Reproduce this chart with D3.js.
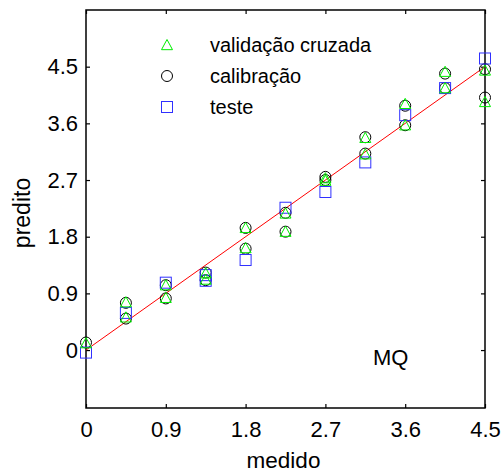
<!DOCTYPE html>
<html>
<head>
<meta charset="utf-8">
<script src="https://cdn.jsdelivr.net/npm/d3@7"></script>
<style>
  html, body { margin: 0; padding: 0; background: #fff; }
  svg { display: block; font-family: "Liberation Sans", Arial, sans-serif; }
</style>
</head>
<body>
<svg id="chart" width="501" height="473"></svg>
<script>
// Calibration points (medido, predito)
const calibX = [0, 0.45, 0.45, 0.9, 0.9, 1.35, 1.35, 1.8, 1.8, 2.25, 2.25, 2.7, 2.7, 3.15, 3.15, 3.6, 3.6, 4.05, 4.05, 4.5, 4.5];
const calibY = [0.12, 0.75, 0.50, 1.03, 0.82, 1.23, 1.11, 1.94, 1.61, 2.18, 1.88, 2.75, 2.70, 3.38, 3.12, 3.88, 3.57, 4.39, 4.16, 4.46, 4.01];
// Cross-validation points
const cvX = calibX;
const cvY = [0.11, 0.76, 0.52, 1.03, 0.83, 1.22, 1.12, 1.94, 1.62, 2.17, 1.88, 2.73, 2.69, 3.37, 3.11, 3.91, 3.57, 4.42, 4.16, 4.44, 3.94];
// Test set points
const testX = [0, 0.45, 0.9, 1.35, 1.35, 1.8, 2.25, 2.7, 3.15, 3.6, 4.05, 4.5];
const testY = [-0.04, 0.59, 1.07, 1.19, 1.10, 1.43, 2.26, 2.51, 2.98, 3.73, 4.16, 4.63];
// Axis ticks and labels
const ticks = [0, 0.9, 1.8, 2.7, 3.6, 4.5];
const legendLabels = ["validação cruzada", "calibração", "teste"];
const xTitle = "medido";
const yTitle = "predito";
const modelLabel = "MQ";

const svg = d3.select("#chart");
const mLeft = 86, mRight = 485, mTop = 10, mBottom = 408;

const x = d3.scaleLinear().domain([0, 4.5]).range([mLeft, mRight]);
const y = d3.scaleLinear().domain([-0.92, 5.4]).range([mBottom, mTop]);

const fmt = d => d === 0 ? "0" : d3.format(".1f")(d);

// Axes with inward ticks on all four sides
const axisFont = "22px";
const gB = svg.append("g").attr("transform", `translate(0,${mBottom})`)
  .call(d3.axisBottom(x).tickValues(ticks).tickFormat(fmt).tickSizeInner(-4).tickSizeOuter(0).tickPadding(13));
const gL = svg.append("g").attr("transform", `translate(${mLeft},0)`)
  .call(d3.axisLeft(y).tickValues(ticks).tickFormat(fmt).tickSizeInner(-4).tickSizeOuter(0).tickPadding(8));
const gT = svg.append("g").attr("transform", `translate(0,${mTop})`)
  .call(d3.axisTop(x).tickValues(ticks).tickFormat("").tickSizeInner(-4).tickSizeOuter(0));
const gR = svg.append("g").attr("transform", `translate(${mRight},0)`)
  .call(d3.axisRight(y).tickValues(ticks).tickFormat("").tickSizeInner(-4).tickSizeOuter(0));

[gB, gL, gT, gR].forEach(g => {
  g.select(".domain").remove();
  g.selectAll(".tick line").attr("stroke", "#000").attr("stroke-width", 1.2);
  g.selectAll(".tick text").attr("fill", "#000").style("font-size", axisFont)
    .style("font-family", "Liberation Sans, Arial, sans-serif");
});

// Frame
svg.append("rect")
  .attr("x", mLeft).attr("y", mTop)
  .attr("width", mRight - mLeft).attr("height", mBottom - mTop)
  .attr("fill", "none").attr("stroke", "#000").attr("stroke-width", 1.5);

// Axis titles
svg.append("text").attr("x", (mLeft + mRight) / 2 - 2).attr("y", 468)
  .attr("text-anchor", "middle").style("font-size", "22.5px").text(xTitle);
svg.append("text")
  .attr("transform", `translate(30,${(mTop + mBottom) / 2 + 4}) rotate(-90)`)
  .attr("text-anchor", "middle").style("font-size", "23px").text(yTitle);

// Reference line y = x
svg.append("line")
  .attr("x1", x(0)).attr("y1", y(0)).attr("x2", x(4.5)).attr("y2", y(4.5))
  .attr("stroke", "#ff0000").attr("stroke-width", 1);

const triSize = 5.5;
const triPath = (cx, cy) => `M${cx},${cy - triSize}L${cx + triSize},${cy + triSize * 0.85}L${cx - triSize},${cy + triSize * 0.85}Z`;

const calib = calibX.map((v, i) => [v, calibY[i]]);
const cv = cvX.map((v, i) => [v, cvY[i]]);
const test = testX.map((v, i) => [v, testY[i]]);

// Calibration: black circles
svg.append("g").selectAll("circle").data(calib).join("circle")
  .attr("cx", d => x(d[0])).attr("cy", d => y(d[1])).attr("r", 5.5)
  .attr("fill", "none").attr("stroke", "#000").attr("stroke-width", 1);

// Test: blue squares
svg.append("g").selectAll("rect").data(test).join("rect")
  .attr("x", d => x(d[0]) - 5.5).attr("y", d => y(d[1]) - 5.5)
  .attr("width", 11).attr("height", 11)
  .attr("fill", "none").attr("stroke", "#3030ff").attr("stroke-width", 1);

// Cross-validation: green triangles
svg.append("g").selectAll("path").data(cv).join("path")
  .attr("d", d => triPath(x(d[0]), y(d[1])))
  .attr("fill", "none").attr("stroke", "#00ee00").attr("stroke-width", 1);

// Legend
const legY = [45, 76, 107];
const legX = 167;
svg.append("path").attr("d", triPath(legX, legY[0]))
  .attr("fill", "none").attr("stroke", "#00ee00").attr("stroke-width", 1);
svg.append("circle").attr("cx", legX).attr("cy", legY[1]).attr("r", 5.5)
  .attr("fill", "none").attr("stroke", "#000").attr("stroke-width", 1);
svg.append("rect").attr("x", legX - 5.5).attr("y", legY[2] - 5.5).attr("width", 11).attr("height", 11)
  .attr("fill", "none").attr("stroke", "#3030ff").attr("stroke-width", 1);
legendLabels.forEach((t, i) => {
  svg.append("text").attr("x", 210).attr("y", legY[i]).attr("dy", "0.35em")
    .style("font-size", "20px").text(t);
});

// Model label
svg.append("text").attr("x", 373).attr("y", 365).style("font-size", "22px").text(modelLabel);
</script>
</body>
</html>
